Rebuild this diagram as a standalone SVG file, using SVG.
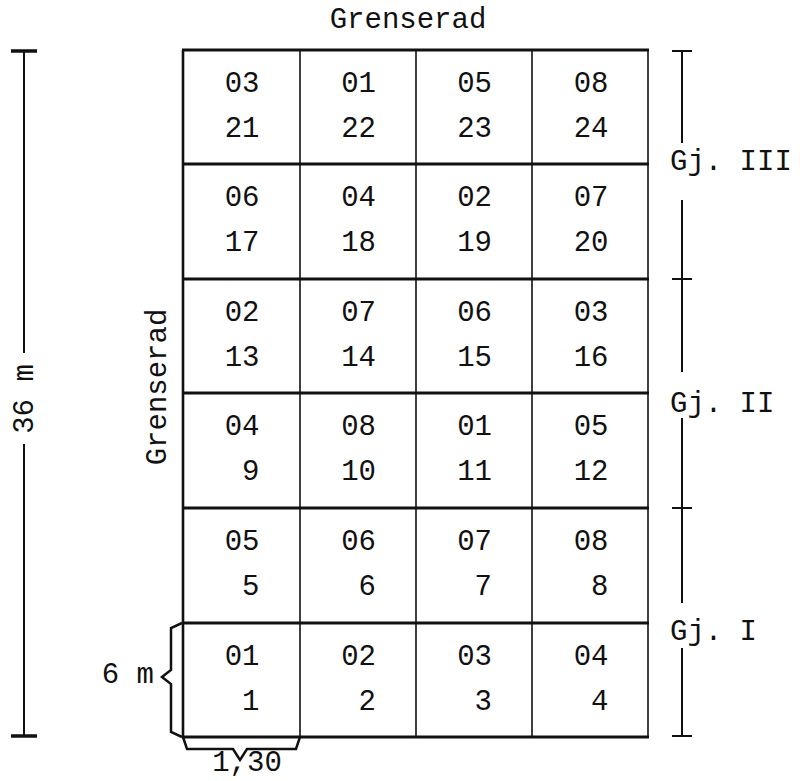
<svg xmlns="http://www.w3.org/2000/svg" width="809" height="781" viewBox="0 0 809 781">
<style>
text{font-family:"Liberation Mono","DejaVu Sans Mono",monospace;font-size:29px;fill:#111}
.c{text-anchor:end}
.m{text-anchor:middle}
.h{stroke:#111;stroke-width:3;fill:none}
.v{stroke:#111;stroke-width:1.6;fill:none}
.vo{stroke:#111;stroke-width:2.6;fill:none}
.b{stroke:#111;stroke-width:2.5;fill:none;stroke-linejoin:miter}
.s{stroke:#111;stroke-width:2;fill:none}
.cap{stroke:#111;stroke-width:3.5;fill:none}
</style>
<rect width="809" height="781" fill="#fff"/>
<g id="grid">
<path class="h" d="M182,50H649M182,164H649M182,279H649M182,393H649M182,508H649M182,623H649M182,737H649"/>
<path class="vo" d="M183,50V737"/>
<path class="v" d="M300,50V737M416,50V737M532,50V737"/>
<path class="v" d="M648,50V737"/>
</g>
<g id="cells">
<text class="c" x="259.5" y="92">03</text><text class="c" x="259.5" y="137">21</text>
<text class="c" x="376" y="92">01</text><text class="c" x="376" y="137">22</text>
<text class="c" x="492" y="92">05</text><text class="c" x="492" y="137">23</text>
<text class="c" x="608.5" y="92">08</text><text class="c" x="608.5" y="137">24</text>

<text class="c" x="259.5" y="206">06</text><text class="c" x="259.5" y="251">17</text>
<text class="c" x="376" y="206">04</text><text class="c" x="376" y="251">18</text>
<text class="c" x="492" y="206">02</text><text class="c" x="492" y="251">19</text>
<text class="c" x="608.5" y="206">07</text><text class="c" x="608.5" y="251">20</text>

<text class="c" x="259.5" y="321">02</text><text class="c" x="259.5" y="366">13</text>
<text class="c" x="376" y="321">07</text><text class="c" x="376" y="366">14</text>
<text class="c" x="492" y="321">06</text><text class="c" x="492" y="366">15</text>
<text class="c" x="608.5" y="321">03</text><text class="c" x="608.5" y="366">16</text>

<text class="c" x="259.5" y="435">04</text><text class="c" x="259.5" y="480">9</text>
<text class="c" x="376" y="435">08</text><text class="c" x="376" y="480">10</text>
<text class="c" x="492" y="435">01</text><text class="c" x="492" y="480">11</text>
<text class="c" x="608.5" y="435">05</text><text class="c" x="608.5" y="480">12</text>

<text class="c" x="259.5" y="550">05</text><text class="c" x="259.5" y="595">5</text>
<text class="c" x="376" y="550">06</text><text class="c" x="376" y="595">6</text>
<text class="c" x="492" y="550">07</text><text class="c" x="492" y="595">7</text>
<text class="c" x="608.5" y="550">08</text><text class="c" x="608.5" y="595">8</text>

<text class="c" x="259.5" y="665">01</text><text class="c" x="259.5" y="710">1</text>
<text class="c" x="376" y="665">02</text><text class="c" x="376" y="710">2</text>
<text class="c" x="492" y="665">03</text><text class="c" x="492" y="710">3</text>
<text class="c" x="608.5" y="665">04</text><text class="c" x="608.5" y="710">4</text>
</g>
<g id="top-label"><text class="m" x="408" y="28">Grenserad</text></g>
<g id="side-label"><text class="m" transform="translate(156,387) rotate(-90)" x="0" y="10">Grenserad</text></g>
<g id="scale-36m">
<path class="s" d="M24,51V353M24,444V736"/>
<path class="cap" d="M11,51H37M11,736H37"/>
<text class="m" transform="translate(23,399) rotate(-90)" x="0" y="10">36 m</text>
</g>
<g id="gj3">
<path class="s" d="M682,51V143M682,200V278"/>
<path class="s" d="M672,51H692"/>
<text x="670" y="170">Gj. III</text>
</g>
<g id="gj2">
<path class="s" d="M682,279V372M682,418V508"/>
<path class="s" d="M672,279H692M672,508H692"/>
<text x="670" y="412">Gj. II</text>
</g>
<g id="gj1">
<path class="s" d="M682,509V603M682,648V736"/>
<path class="s" d="M672,736H692"/>
<text x="670" y="640">Gj. I</text>
</g>
<g id="brace-6m">
<path class="b" d="M182,623L171,628V670L162,677L171,684V732L182,737"/>
<text class="c" x="154" y="683">6 m</text>
</g>
<g id="brace-130">
<path class="b" d="M183,737L187,749H233L240,760L247,749H296L300,737"/>
<text class="m" x="247" y="771">1,30</text>
</g>
</svg>
